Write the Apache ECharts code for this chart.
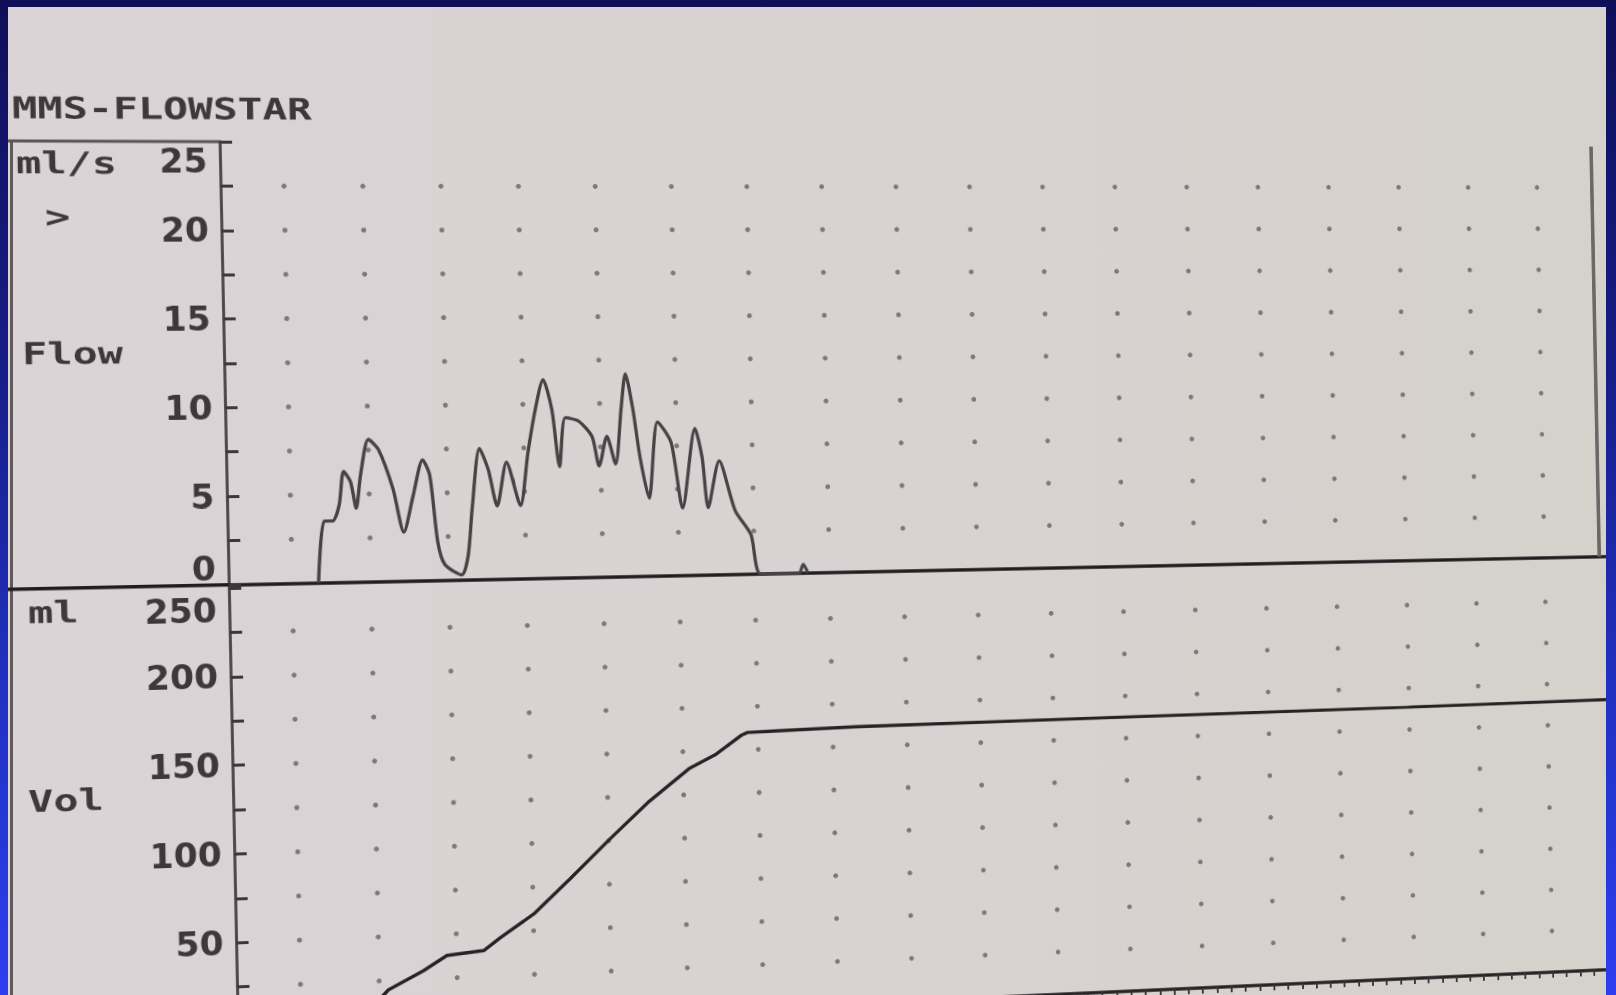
<!DOCTYPE html>
<html>
<head>
<meta charset="utf-8">
<title>MMS-FLOWSTAR</title>
<script src="https://cdn.jsdelivr.net/npm/echarts@6/dist/echarts.min.js"></script>
<style>
  html, body { margin: 0; padding: 0; width: 1616px; height: 995px; overflow: hidden; }
  body { background: linear-gradient(180deg, #0f0f58 0%, #161c84 35%, #2131c2 70%, #2c3ef0 100%); }
  #paper { position: absolute; left: 8px; top: 7px; width: 1598px; height: 988px; overflow: hidden;
           background: linear-gradient(90deg, #dbd3d5 0%, #d9d2d3 45%, #d5d1cb 100%); }
  #edge { position: absolute; left: 2px; top: 134px; width: 3px; height: 860px; background: #5f5a5a; }
  #chart { position: absolute; left: -8px; top: -7px; width: 1800px; height: 1100px; transform-origin: 0 0; }
</style>
</head>
<body>
<div id="paper"><div id="edge"></div><div id="chart"></div></div>
<script>
// Uroflow print-out: flow rate (ml/s) and voided volume (ml) against time (s)

// flow trace
const flowTime = [6.67, 7.1, 7.64, 8.08, 8.4, 8.83, 9.16, 9.48, 10.02, 10.66, 11.52, 12.17, 12.82, 13.46,
  13.9, 14.33, 14.76, 15.84, 16.27, 16.59, 17.13, 17.67, 18.21, 18.86, 19.72, 20.26, 20.8, 21.34, 21.87,
  22.31, 22.74, 23.6, 24.46, 24.89, 25.43, 25.97, 26.4, 26.72, 27.16, 27.59, 28.13, 28.77, 29.64, 30.32,
  31.23, 31.67, 32.01, 32.79, 33.79, 34.8, 35.4, 37.95, 38.25, 38.55];
const flowRate = [0, 3.5, 3.5, 4.4, 6.3, 5.7, 4.2, 6.1, 8.1, 7.5, 5.3, 2.8, 4.9, 6.9,
  6.0, 2.2, 0.9, 0.3, 1.4, 4.1, 7.5, 6.3, 4.2, 6.7, 4.2, 7.2, 9.7, 11.4, 9.7,
  6.4, 9.2, 9.0, 8.1, 6.4, 8.1, 6.5, 9.7, 11.7, 9.7, 6.8, 4.5, 8.9, 7.7, 3.9,
  8.5, 6.8, 3.9, 6.6, 3.7, 2.3, 0, 0, 0.5, 0];

// volume trace
const volTime = [7.12, 8.0, 9.0, 10.0, 10.58, 12.84, 14.37, 16.75, 17.84, 20.03, 22.44, 25.09, 27.73,
  30.38, 32.2, 33.9, 34.3, 41.6, 60, 80, 100];
const volume = [0, 2.5, 8, 14.5, 19.7, 29.7, 37.9, 39.8, 46.8, 59.6, 79, 101, 122,
  140, 148, 158.5, 160, 161.5, 162.5, 163.5, 165];

// axis labels and the dotted paper grid
const flowLabels = [0, 5, 10, 15, 20, 25];
const volLabels = [50, 100, 150, 200, 250];
const dotColumns = [5, 10, 15, 20, 25, 30, 35, 40, 45, 50, 55, 60, 65, 70, 75, 80, 85, 90];
const flowDotRows = [2.5, 5, 7.5, 10, 12.5, 15, 17.5, 20, 22.5];
const volDotRows = [25, 50, 75, 100, 125, 150, 175, 200, 225];

// side texts of the print-out: [text, left x, middle y] on the page
const sideTexts = [
  ['MMS-FLOWSTAR', 12, 108],
  ['ml/s', 16, 163],
  ['>', 45, 217],
  ['Flow', 22, 354],
  ['ml', 28, 613],
  ['Vol', 28, 802]
];

// ---- layout of the flat chart ----
const CW = 1800, CH = 1100;
const LEFT = 228, SEC_PX = 15.3, T_MIN = 1, T_MAX = 100, EDGE_T = 94;
const FLOW_TOP = 142, FLOW_PX = 17.75, FLOW_MAX = 25;
const VOL_TOP = 589, VOL_PX = 1.776, VOL_MAX = 250;
const gridW = (T_MAX - T_MIN) * SEC_PX;
const flowH = FLOW_MAX * FLOW_PX;
const volH = VOL_MAX * VOL_PX;

// ---- the sheet is seen slightly turned and in perspective: projective warp ----
function solve(A, b) {
  const n = b.length;
  for (let i = 0; i < n; i++) {
    let p = i;
    for (let r = i + 1; r < n; r++) if (Math.abs(A[r][i]) > Math.abs(A[p][i])) p = r;
    [A[i], A[p]] = [A[p], A[i]]; [b[i], b[p]] = [b[p], b[i]];
    for (let r = i + 1; r < n; r++) {
      const f = A[r][i] / A[i][i];
      for (let c = i; c < n; c++) A[r][c] -= f * A[i][c];
      b[r] -= f * b[i];
    }
  }
  const x = new Array(n);
  for (let i = n - 1; i >= 0; i--) {
    let s = b[i];
    for (let c = i + 1; c < n; c++) s -= A[i][c] * x[c];
    x[i] = s / A[i][i];
  }
  return x;
}
function homography(src, dst) {
  const A = [], b = [];
  for (let i = 0; i < 4; i++) {
    const [x, y] = src[i], [u, v] = dst[i];
    A.push([x, y, 1, 0, 0, 0, -u * x, -u * y]); b.push(u);
    A.push([0, 0, 0, x, y, 1, -v * x, -v * y]); b.push(v);
  }
  const h = solve(A, b);
  return [h[0], h[1], h[2], h[3], h[4], h[5], h[6], h[7], 1];
}
function project(h, p) {
  const w = h[6] * p[0] + h[7] * p[1] + h[8];
  return [(h[0] * p[0] + h[1] * p[1] + h[2]) / w, (h[3] * p[0] + h[4] * p[1] + h[5]) / w];
}
const tx = t => LEFT + (t - T_MIN) * SEC_PX;
const fy = v => FLOW_TOP + (FLOW_MAX - v) * FLOW_PX;
const vy = v => VOL_TOP + (VOL_MAX - v) * VOL_PX;
const flat = [[tx(1), fy(22.5)], [tx(90), fy(22.5)], [tx(1), vy(25)], [tx(90), vy(25)]];
const seen = [[220.5, 186], [1537, 187.5], [237, 987], [1552, 931]];
const H = homography(flat, seen);
const Hinv = homography(seen, flat);

const chartDom = document.getElementById('chart');
chartDom.style.transform = 'matrix3d(' + [H[0], H[3], 0, H[6], H[1], H[4], 0, H[7], 0, 0, 1, 0, H[2], H[5], 0, H[8]].join(',') + ')';

// ---- chart ----
const ink = '#3d3839';
const dotColor = '#686060';
const numFont = { fontFamily: 'DejaVu Sans', fontWeight: 'bold', fontSize: 33, color: ink };
const richFlowTop = { top: Object.assign({ padding: [3, 0, 0, 0] }, numFont) };
const richVolTop = { top: Object.assign({ padding: [6, 0, 0, 0] }, numFont) };

const flowDots = [];
dotColumns.forEach(t => flowDotRows.forEach(v => flowDots.push([t, v])));
const volDots = [];
dotColumns.forEach(t => volDotRows.forEach(v => volDots.push([t, v])));

const textGraphics = sideTexts.map(([text, x, y]) => {
  const p = project(Hinv, [x, y]);
  return {
    type: 'text', x: p[0], y: p[1], scaleX: 1.32, silent: true, z: 10,
    style: { text: text, font: 'bold 30px "DejaVu Sans Mono"', fill: ink, align: 'left', verticalAlign: 'middle' }
  };
});

function tickLabel(list, top) {
  return v => !list.includes(v) ? '' : (v === top ? '{top|' + v + '}' : String(v));
}

const chart = echarts.init(chartDom, null, { renderer: 'svg', width: CW, height: CH });
chart.setOption({
  animation: false,
  backgroundColor: 'transparent',
  grid: [
    { left: LEFT, top: FLOW_TOP, width: gridW, height: flowH },
    { left: LEFT, top: VOL_TOP, width: gridW, height: volH }
  ],
  xAxis: [
    { gridIndex: 0, type: 'value', min: T_MIN, max: T_MAX,
      axisLine: { show: true, onZero: false, lineStyle: { color: '#1f1d1e', width: 3.5 } },
      axisTick: { show: false }, axisLabel: { show: false }, splitLine: { show: false } },
    { gridIndex: 1, type: 'value', min: T_MIN, max: T_MAX, interval: 1,
      axisLine: { show: true, onZero: false, lineStyle: { color: '#262324', width: 3.5 } },
      axisTick: { show: true, length: 6, lineStyle: { color: '#3a3637', width: 2 } },
      axisLabel: { show: false }, splitLine: { show: false } }
  ],
  yAxis: [
    { gridIndex: 0, type: 'value', min: 0, max: FLOW_MAX, interval: 2.5,
      axisLine: { show: true, lineStyle: { color: '#4a4545', width: 2.8 } },
      axisTick: { show: true, inside: true, length: 12, lineStyle: { color: '#3e3939', width: 3 } },
      splitLine: { show: false },
      axisLabel: Object.assign({ margin: 12, verticalAlignMaxLabel: 'top', verticalAlignMinLabel: 'bottom',
        formatter: tickLabel(flowLabels, FLOW_MAX), rich: richFlowTop }, numFont) },
    { gridIndex: 1, type: 'value', min: 0, max: VOL_MAX, interval: 25,
      axisLine: { show: true, lineStyle: { color: '#4a4545', width: 2.8 } },
      axisTick: { show: true, inside: true, length: 12, lineStyle: { color: '#3e3939', width: 3 } },
      splitLine: { show: false },
      axisLabel: Object.assign({ margin: 12, verticalAlignMaxLabel: 'top', verticalAlignMinLabel: 'bottom',
        formatter: tickLabel(volLabels, VOL_MAX), rich: richVolTop }, numFont) }
  ],
  graphic: [
    { type: 'line', silent: true, shape: { x1: 0, y1: FLOW_TOP, x2: LEFT, y2: FLOW_TOP },
      style: { stroke: '#5b5656', lineWidth: 3 } },
    { type: 'line', silent: true, shape: { x1: 0, y1: FLOW_TOP + flowH, x2: LEFT, y2: FLOW_TOP + flowH },
      style: { stroke: '#1f1d1e', lineWidth: 3.5 } }
  ].concat(textGraphics),
  series: [
    { type: 'scatter', xAxisIndex: 0, yAxisIndex: 0, data: flowDots, symbol: 'circle', symbolSize: 5,
      itemStyle: { color: dotColor }, silent: true, z: 1 },
    { type: 'scatter', xAxisIndex: 1, yAxisIndex: 1, data: volDots, symbol: 'circle', symbolSize: 5,
      itemStyle: { color: dotColor }, silent: true, z: 1 },
    { type: 'line', name: 'Flow', xAxisIndex: 0, yAxisIndex: 0,
      data: flowTime.map((t, i) => [t, flowRate[i]]),
      showSymbol: false, smooth: 0.25, lineStyle: { color: '#474243', width: 3.3 }, z: 3,
      markLine: { silent: true, symbol: 'none', label: { show: false },
        lineStyle: { color: '#6d6868', width: 4, type: 'solid' },
        data: [[{ coord: [EDGE_T, 0] }, { coord: [EDGE_T, FLOW_MAX] }]] } },
    { type: 'line', name: 'Vol', xAxisIndex: 1, yAxisIndex: 1,
      data: volTime.map((t, i) => [t, volume[i]]),
      showSymbol: false, smooth: false, lineStyle: { color: '#262324', width: 3.4 }, z: 3 }
  ]
});
</script>
</body>
</html>
